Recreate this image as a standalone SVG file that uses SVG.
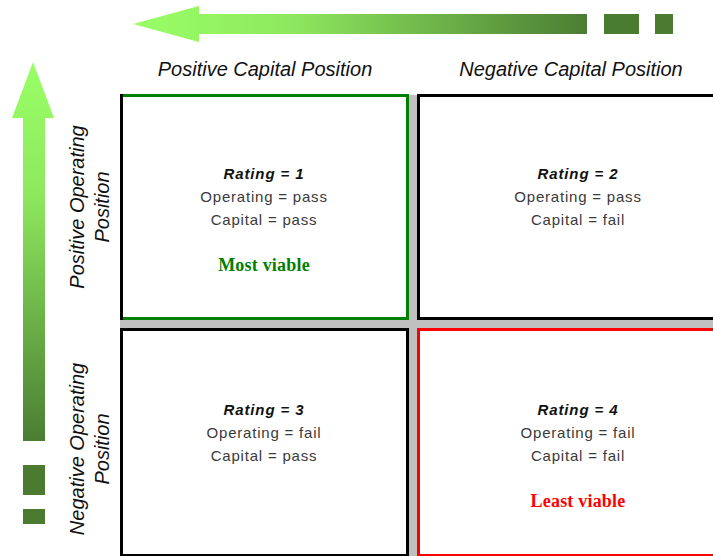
<svg xmlns="http://www.w3.org/2000/svg" width="713" height="556" viewBox="0 0 713 556">
  <defs>
    <linearGradient id="gradH" x1="0" y1="0" x2="1" y2="0">
      <stop offset="0" stop-color="#99ff66"/>
      <stop offset="0.35" stop-color="#8ee85e"/>
      <stop offset="1" stop-color="#4b7d33"/>
    </linearGradient>
    <linearGradient id="gradV" x1="0" y1="0" x2="0" y2="1">
      <stop offset="0" stop-color="#99ff66"/>
      <stop offset="0.35" stop-color="#8ee85e"/>
      <stop offset="1" stop-color="#4b7d33"/>
    </linearGradient>
    <style>
      .axis { font-family: "Liberation Sans", Arial, sans-serif; font-style: italic; font-size: 20px; fill: #111; text-anchor: middle; }
      .rating { font-family: "Liberation Sans", Arial, sans-serif; font-style: italic; font-weight: bold; font-size: 15px; fill: #111; text-anchor: middle; letter-spacing: 0.9px; }
      .detail { font-family: "Liberation Sans", Arial, sans-serif; font-size: 15px; fill: #3a3a3a; text-anchor: middle; letter-spacing: 0.8px; }
      .verdict { font-family: "Liberation Serif", "Times New Roman", serif; font-weight: bold; font-size: 18px; text-anchor: middle; letter-spacing: 0.2px; }
      .cell { fill: #ffffff; stroke-width: 3; }
      .dash { fill: #4b7b31; }
    </style>
  </defs>

  <!-- capital axis arrow (points left) -->
  <g id="capital-axis">
    <polygon points="133,24 199,6 199,14 587,14 587,34 199,34 199,42" fill="url(#gradH)"/>
    <rect class="dash" x="604" y="14" width="35" height="20"/>
    <rect class="dash" x="655" y="14" width="18" height="20" fill="#477a2e"/>
  </g>

  <!-- operating axis arrow (points up) -->
  <g id="operating-axis">
    <polygon points="33,62 54,118 45,118 45,441 23,441 23,118 12,118" fill="url(#gradV)"/>
    <rect class="dash" x="23" y="465" width="22" height="30"/>
    <rect class="dash" x="23" y="509" width="22" height="15" fill="#477a2e"/>
  </g>

  <!-- axis labels -->
  <g id="axis-labels">
    <text class="axis" x="265" y="76">Positive Capital Position</text>
    <text class="axis" x="571" y="76">Negative Capital Position</text>
    <g transform="translate(84,207) rotate(-90)">
      <text class="axis" x="0" y="0">Positive Operating</text>
      <text class="axis" x="0" y="25">Position</text>
    </g>
    <g transform="translate(84,449) rotate(-90)">
      <text class="axis" x="0" y="0">Negative Operating</text>
      <text class="axis" x="0" y="25">Position</text>
    </g>
  </g>

  <!-- grid backdrop showing between the quadrants -->
  <rect id="grid" x="120" y="95" width="600" height="470" fill="#c0c0c0"/>

  <g id="cell-1">
    <rect class="cell" x="121.5" y="95.5" width="286" height="223" stroke="#008000"/>
    <line x1="121.5" y1="94" x2="121.5" y2="320" stroke="#000" stroke-width="3"/>
    <text class="rating" x="264" y="179">Rating = 1</text>
    <text class="detail" x="264" y="202">Operating = pass</text>
    <text class="detail" x="264" y="225">Capital = pass</text>
    <text class="verdict" x="264" y="271" fill="#008000">Most viable</text>
  </g>

  <g id="cell-2">
    <rect class="cell" x="418.5" y="95.5" width="310" height="223" stroke="#000000"/>
    <text class="rating" x="578" y="179">Rating = 2</text>
    <text class="detail" x="578" y="202">Operating = pass</text>
    <text class="detail" x="578" y="225">Capital = fail</text>
  </g>

  <g id="cell-3">
    <rect class="cell" x="121.5" y="329.5" width="286" height="226" stroke="#000000"/>
    <text class="rating" x="264" y="415">Rating = 3</text>
    <text class="detail" x="264" y="438">Operating = fail</text>
    <text class="detail" x="264" y="461">Capital = pass</text>
  </g>

  <g id="cell-4">
    <rect class="cell" x="418.5" y="329.5" width="310" height="226" stroke="#ff0000"/>
    <text class="rating" x="578" y="415">Rating = 4</text>
    <text class="detail" x="578" y="438">Operating = fail</text>
    <text class="detail" x="578" y="461">Capital = fail</text>
    <text class="verdict" x="578" y="507" fill="#ff0000">Least viable</text>
  </g>

  <g id="connectors"/>
</svg>
